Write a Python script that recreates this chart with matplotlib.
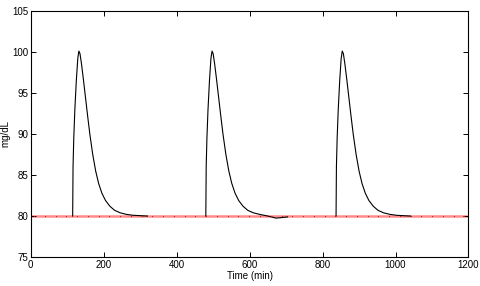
import matplotlib
matplotlib.use("Agg")
import matplotlib.pyplot as plt

plt.rcParams['font.family'] = ['Liberation Sans', 'DejaVu Sans']

# Meal response segments (time in min, glucose in mg/dL)
t1 = [115, 116, 118, 121, 125, 129, 132, 135, 139, 144, 150, 156, 162, 170, 178, 186, 195, 205, 217, 230, 245, 263, 280, 300, 320]
g1 = [80.0, 86.0, 89.5, 93.0, 96.5, 99.2, 100.1, 99.8, 98.6, 96.8, 94.5, 92.2, 90.0, 87.5, 85.5, 84.0, 82.8, 81.9, 81.2, 80.7, 80.4, 80.2, 80.1, 80.05, 80.0]

t2 = [480, 481, 483, 486, 490, 494, 497, 500, 504, 509, 515, 521, 527, 535, 543, 551, 560, 570, 582, 595, 610, 628, 645, 660, 672, 685, 695, 704]
g2 = [80.0, 86.0, 89.5, 93.0, 96.5, 99.2, 100.1, 99.8, 98.6, 96.8, 94.5, 92.2, 90.0, 87.5, 85.5, 84.0, 82.8, 81.9, 81.2, 80.7, 80.4, 80.2, 80.05, 79.9, 79.75, 79.8, 79.85, 79.9]

t3 = [837, 838, 840, 843, 847, 851, 854, 857, 861, 866, 872, 878, 884, 892, 900, 908, 917, 927, 939, 952, 967, 985, 1002, 1020, 1041]
g3 = [80.0, 86.0, 89.5, 93.0, 96.5, 99.2, 100.1, 99.8, 98.6, 96.8, 94.5, 92.2, 90.0, 87.5, 85.5, 84.0, 82.8, 81.9, 81.2, 80.7, 80.4, 80.2, 80.1, 80.05, 80.0]

# Reference (target) level
ref_level = 80
ref_t = [9, 38.5, 68, 97.5, 127, 156.5, 186, 215.5, 245, 274.5, 304, 333.5, 363, 392.5,
         422, 451.5, 481, 510.5, 540, 569.5, 599, 628.5, 658, 687.5, 717, 746.5, 776,
         805.5, 835, 864.5, 894, 923.5, 953, 982.5, 1012, 1041.5, 1071, 1100.5, 1130,
         1159.5, 1189]

xticks = [0, 200, 400, 600, 800, 1000, 1200]
yticks = [75, 80, 85, 90, 95, 100, 105]

fig = plt.figure(figsize=(4.8, 2.86), dpi=100)
ax = fig.add_axes([0.064, 0.101, 0.912, 0.861])

ax.axhline(ref_level, color='#ff8c8c', lw=1.8, zorder=1)
for t, g in ((t1, g1), (t2, g2), (t3, g3)):
    ax.plot(t, g, color='black', lw=0.8, zorder=2)
ax.plot(ref_t, [ref_level] * len(ref_t), linestyle='none', marker='o',
        markersize=0.9, markeredgewidth=0, color='#d81818', zorder=3)

ax.set_xlim(0, 1200)
ax.set_ylim(75, 105)
ax.set_xticks(xticks)
ax.set_yticks(yticks)
ax.tick_params(direction='in', length=3.5, width=0.7, labelsize=7, top=True, right=True, pad=2)
for s in ax.spines.values():
    s.set_linewidth(0.8)
ax.set_xlabel('Time (min)', fontsize=7, labelpad=1)
ax.set_ylabel('mg/dL', fontsize=7)
ax.yaxis.set_label_coords(-0.046, 0.5)

fig.savefig('out.png', dpi=100)
